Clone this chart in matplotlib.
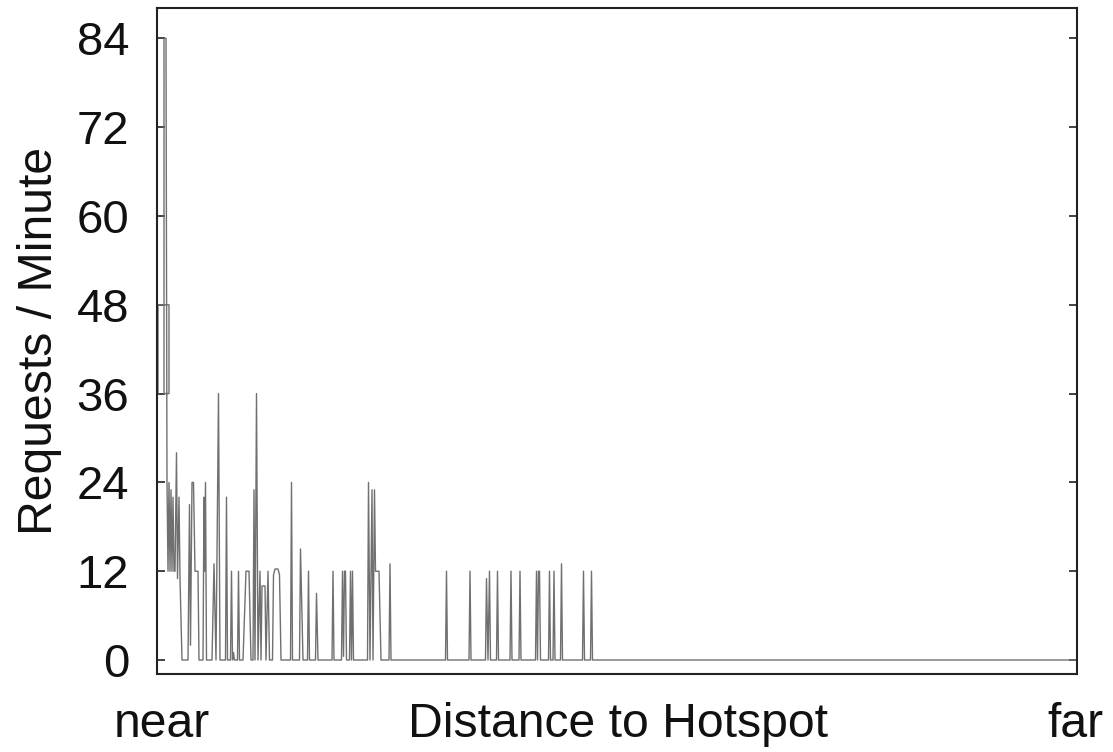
import matplotlib
matplotlib.use("Agg")
import matplotlib.pyplot as plt

plt.rcParams['font.family'] = ['Liberation Sans', 'DejaVu Sans']

# distance (arbitrary units, near -> far) and request rate
distance = [
    1, 1, 12, 12, 7, 7, 9, 10, 11, 12, 13, 14, 15, 16, 17, 18, 19.5, 20.5, 22, 23, 25,
    31, 32.5, 33.5, 35, 36.5, 38, 41, 42,
    46, 47, 47.5, 48.5, 49.5,
    55, 57, 59, 61.5, 63,
    68.5, 69.5, 70.5,
    73.5, 74.5, 75.5, 76.5, 77.5,
    80.5, 81.5, 82.5,
    86, 89, 92, 94,
    96, 97, 98, 99.5, 101, 103, 104, 105, 108, 109, 111, 112.5,
    115.5, 116.5, 118, 121, 122.5, 124,
    133.5, 134.5, 135.5,
    142.5, 143.5, 146,
    150.5, 151.5, 152.5,
    158.5, 159.5, 161,
    175, 176, 177,
    184.5, 185.5, 186.5, 187.5, 188.5, 189.5,
    192.5, 193.5, 194.5, 195.5, 196.5,
    210.5, 211.5, 213, 215, 216, 217.5, 218.5, 222, 224,
    232, 233, 234,
    288.5, 289.5, 290.5,
    312, 313, 314,
    328.5, 329.5, 331, 332.5, 333.5,
    339.5, 340.5, 341.5,
    353, 354, 355,
    362, 363, 364,
    378.5, 379.5, 380.5, 381.5, 382.5, 383.5,
    391.5, 392.5, 393.5,
    396, 397, 398,
    403.5, 404.5, 405.5,
    425.5, 426.5, 427.5,
    433.5, 434.5, 435.5,
    920,
]
requests = [
    36, 48, 48, 36, 36, 84, 84, 24, 12, 24, 12, 23, 12, 22, 12, 12, 28, 11, 22, 11, 0,
    0, 21, 2, 24, 24, 12, 12, 0,
    0, 22, 12, 24, 0,
    0, 13, 0, 36, 0,
    0, 22, 0,
    0, 12, 0, 1, 0,
    0, 12, 0,
    0, 12, 12, 0,
    0, 23, 0, 36, 0, 12, 0, 10, 10, 0, 12, 0,
    0, 11.5, 12.3, 12.3, 11.5, 0,
    0, 24, 0,
    0, 15, 0,
    0, 12, 0,
    0, 9, 0,
    0, 12, 0,
    0, 12, 0.5, 12, 12, 0,
    0, 12, 0, 12, 0,
    0, 24, 0, 23, 0, 23, 12, 12, 0,
    0, 13, 0,
    0, 12, 0,
    0, 12, 0,
    0, 11, 0, 12, 0,
    0, 12, 0,
    0, 12, 0,
    0, 12, 0,
    0, 12, 0, 12, 12, 0,
    0, 12, 0,
    0, 12, 0,
    0, 13, 0,
    0, 12, 0,
    0, 12, 0,
    0,
]
y_ticks = [0, 12, 24, 36, 48, 60, 72, 84]

fig = plt.figure(figsize=(11.13, 7.52), dpi=100)
ax = fig.add_axes([157 / 1113, 1 - 674 / 752, 920 / 1113, 666 / 752])

ax.plot(distance, requests, color='#707070', linewidth=1.0)

ax.set_xlim(0, 920)
ax.set_ylim(-1.89, 88.1)
ax.set_yticks(y_ticks)
ax.set_xticks([0])
ax.set_xticklabels([''])
ax.tick_params(axis='y', direction='in', length=6, width=1.2, labelsize=34,
               pad=20, right=True, colors='#222222', labelcolor='#111111')
ax.tick_params(axis='x', direction='in', length=6, width=1.2, colors='#222222')

for s in ax.spines.values():
    s.set_linewidth(1.5)
    s.set_color('#222222')

# axis texts drawn like the gnuplot original
fs = 34.7
fig.text(161.7 / 1113, 1 - 737 / 752, 'near', ha='center', va='baseline',
         fontsize=fs, color='#111111')
fig.text(617.5 / 1113, 1 - 737 / 752, 'Distance to Hotspot', ha='center',
         va='baseline', fontsize=fs, color='#111111')
fig.text(1075.7 / 1113, 1 - 737 / 752, 'far', ha='center', va='baseline',
         fontsize=fs, color='#111111')
fig.text(51.7 / 1113, 1 - 341 / 752, 'Requests / Minute', ha='center',
         va='baseline', rotation=90, rotation_mode='anchor', fontsize=fs,
         color='#111111')

fig.savefig('out.png', dpi=100, facecolor='white')
